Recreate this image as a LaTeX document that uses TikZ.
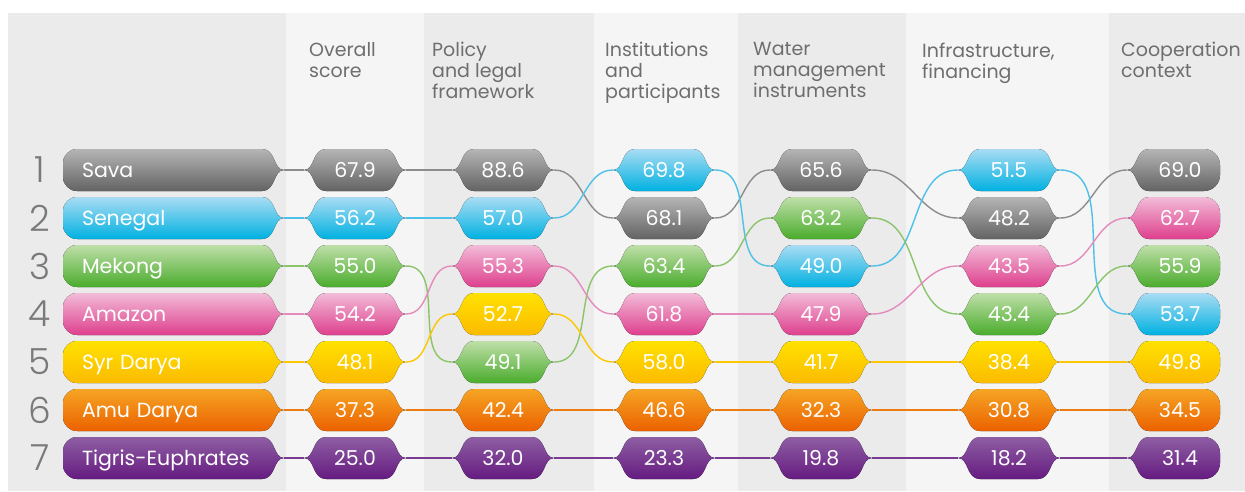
\documentclass[tikz,border=0pt]{standalone}
\usepackage{fontspec}
\setmainfont{Poppins}
\newfontfamily\thinfont{Poppins}[UprightFont={* Light}]

\pgfdeclarelayer{back}
\pgfdeclarelayer{lines}
\pgfsetlayers{back,lines,main}

% Row colours
\definecolor{savatop}{HTML}{B5B5B5}\definecolor{savabot}{HTML}{636363}\definecolor{savaline}{HTML}{8C8C8C}
\definecolor{senegaltop}{HTML}{A9DCF3}\definecolor{senegalbot}{HTML}{00B1E1}\definecolor{senegalline}{HTML}{4FC0E8}
\definecolor{mekongtop}{HTML}{BFDFA9}\definecolor{mekongbot}{HTML}{4AAC2C}\definecolor{mekongline}{HTML}{8BC46A}
\definecolor{amazontop}{HTML}{F2BCD8}\definecolor{amazonbot}{HTML}{DE3F8D}\definecolor{amazonline}{HTML}{E58BBB}
\definecolor{syrtop}{HTML}{FFE100}\definecolor{syrbot}{HTML}{FBBB00}\definecolor{syrline}{HTML}{FDC700}
\definecolor{amutop}{HTML}{F6A524}\definecolor{amubot}{HTML}{EB6100}\definecolor{amuline}{HTML}{EE7A12}
\definecolor{tigristop}{HTML}{8E5EA3}\definecolor{tigrisbot}{HTML}{651B80}\definecolor{tigrisline}{HTML}{7A3C92}
\definecolor{banddark}{HTML}{EBEBEB}
\definecolor{bandlight}{HTML}{F5F5F5}
\definecolor{headgrey}{HTML}{6E6E6E}
\definecolor{rankgrey}{HTML}{7A7A7A}

\tikzset{
  valnum/.style={minimum width=102pt, minimum height=42pt, inner sep=0pt, text=white,
    font=\fontsize{20.5}{20.5}\selectfont, text height=14.4pt, text depth=0pt},
  labname/.style={valnum, minimum width=221pt, text width=183pt, align=left, inner xsep=19pt},
  header/.style={anchor=north west, align=left, inner sep=0pt, text=headgrey,
    font=\fontsize{19}{21}\selectfont, execute at begin node=\strut},
  rank/.style={inner sep=0pt, text=rankgrey, font=\thinfont\fontsize{36}{36}\selectfont},
  link/.style={line width=1.4pt}
}

% pill with two pointed ends: name, x, y, colour, value
\newcommand{\valpill}[5]{%
  \fill[shift={(#2,#3)}, top color=#4top, bottom color=#4bot]
    (-51,0) .. controls (-40,0) and (-43,-21) .. (-29,-21) -- (29,-21)
    .. controls (43,-21) and (40,0) .. (51,0)
    .. controls (40,0) and (43,21) .. (29,21) -- (-29,21)
    .. controls (-43,21) and (-40,0) .. (-51,0) -- cycle;
  \node[valnum] (#1) at (#2,#3) {#5};}

% basin name pill: name, y, colour, text
\newcommand{\labpill}[4]{%
  \fill[shift={(0,#2)}, top color=#3top, bottom color=#3bot]
    (262,-21) -- (77,-21) .. controls (69.3,-21) and (63,-14.7) .. (63,-7) -- (63,7)
    .. controls (63,14.7) and (69.3,21) .. (77,21) -- (262,21)
    .. controls (276,21) and (273,0) .. (284,0)
    .. controls (273,0) and (276,-21) .. (262,-21) -- cycle;
  \node[labname] (#1) at (173.5,#2) {#4};}

% last column pill, round on the right: name, y, colour, value
\newcommand{\lastpill}[4]{%
  \fill[shift={(1180,#2)}, top color=#3top, bottom color=#3bot]
    (-53,0) .. controls (-42,0) and (-45,-21) .. (-31,-21) -- (24,-21)
    .. controls (32.8,-21) and (40,-13.8) .. (40,-5) -- (40,5)
    .. controls (40,13.8) and (32.8,21) .. (24,21) -- (-31,21)
    .. controls (-45,21) and (-42,0) .. (-53,0) -- cycle;
  \node[valnum, minimum width=106pt] (#1) at (1180,#2) {#4};}

\begin{document}
\begin{tikzpicture}[x=1pt, y=-1pt]
\useasboundingbox (0,0) rectangle (1245,491);

% Background bands
\begin{pgfonlayer}{back}
\fill[banddark] (8,13) rectangle (286,491);
\fill[bandlight] (286,13) rectangle (424,491);
\fill[banddark] (424,13) rectangle (594,491);
\fill[bandlight] (594,13) rectangle (738,491);
\fill[banddark] (738,13) rectangle (906,491);
\fill[bandlight] (906,13) rectangle (1109,491);
\fill[banddark] (1109,13) rectangle (1245,491);
\end{pgfonlayer}

% Column headers
\node[header] (h1) at (309,42.3) {Overall\\score};
\node[header] (h2) at (432,42.3) {Policy\\and legal\\framework};
\node[header] (h3) at (605,42.3) {Institutions\\and\\participants};
\node[header] (h4) at (753,42.3) {Water\\management\\instruments};
\node[header] (h5) at (922,42.3) {Infrastructure,\\financing};
\node[header] (h6) at (1121,42.3) {Cooperation\\context};

% Ranks
\node[rank] (rank1) at (40,170) {1};
\node[rank] (rank2) at (40,218) {2};
\node[rank] (rank3) at (40,266) {3};
\node[rank] (rank4) at (40,314) {4};
\node[rank] (rank5) at (40,362) {5};
\node[rank] (rank6) at (40,410) {6};
\node[rank] (rank7) at (40,458) {7};

% Basins
\labpill{sava0}{170}{sava}{Sava}
\labpill{senegal0}{218}{senegal}{Senegal}
\labpill{mekong0}{266}{mekong}{Mekong}
\labpill{amazon0}{314}{amazon}{Amazon}
\labpill{syr0}{362}{syr}{Syr Darya}
\labpill{amu0}{410}{amu}{Amu Darya}
\labpill{tigris0}{458}{tigris}{Tigris-Euphrates}

% Overall score
\valpill{sava1}{355}{170}{sava}{67.9}
\valpill{senegal1}{355}{218}{senegal}{56.2}
\valpill{mekong1}{355}{266}{mekong}{55.0}
\valpill{amazon1}{355}{314}{amazon}{54.2}
\valpill{syr1}{355}{362}{syr}{48.1}
\valpill{amu1}{355}{410}{amu}{37.3}
\valpill{tigris1}{355}{458}{tigris}{25.0}

% Policy and legal framework
\valpill{sava2}{503}{170}{sava}{88.6}
\valpill{senegal2}{503}{218}{senegal}{57.0}
\valpill{amazon2}{503}{266}{amazon}{55.3}
\valpill{syr2}{503}{314}{syr}{52.7}
\valpill{mekong2}{503}{362}{mekong}{49.1}
\valpill{amu2}{503}{410}{amu}{42.4}
\valpill{tigris2}{503}{458}{tigris}{32.0}

% Institutions and participants
\valpill{senegal3}{664}{170}{senegal}{69.8}
\valpill{sava3}{664}{218}{sava}{68.1}
\valpill{mekong3}{664}{266}{mekong}{63.4}
\valpill{amazon3}{664}{314}{amazon}{61.8}
\valpill{syr3}{664}{362}{syr}{58.0}
\valpill{amu3}{664}{410}{amu}{46.6}
\valpill{tigris3}{664}{458}{tigris}{23.3}

% Water management instruments
\valpill{sava4}{821}{170}{sava}{65.6}
\valpill{mekong4}{821}{218}{mekong}{63.2}
\valpill{senegal4}{821}{266}{senegal}{49.0}
\valpill{amazon4}{821}{314}{amazon}{47.9}
\valpill{syr4}{821}{362}{syr}{41.7}
\valpill{amu4}{821}{410}{amu}{32.3}
\valpill{tigris4}{821}{458}{tigris}{19.8}

% Infrastructure, financing
\valpill{senegal5}{1009}{170}{senegal}{51.5}
\valpill{sava5}{1009}{218}{sava}{48.2}
\valpill{amazon5}{1009}{266}{amazon}{43.5}
\valpill{mekong5}{1009}{314}{mekong}{43.4}
\valpill{syr5}{1009}{362}{syr}{38.4}
\valpill{amu5}{1009}{410}{amu}{30.8}
\valpill{tigris5}{1009}{458}{tigris}{18.2}

% Cooperation context
\lastpill{sava6}{170}{sava}{69.0}
\lastpill{amazon6}{218}{amazon}{62.7}
\lastpill{mekong6}{266}{mekong}{55.9}
\lastpill{senegal6}{314}{senegal}{53.7}
\lastpill{syr6}{362}{syr}{49.8}
\lastpill{amu6}{410}{amu}{34.5}
\lastpill{tigris6}{458}{tigris}{31.4}

% Links between columns
\begin{pgfonlayer}{lines}
\foreach \rv in {sava,senegal,mekong,amazon,syr,amu,tigris}
  \foreach \a/\b in {0/1,1/2,2/3,3/4,4/5,5/6}
    \draw[link, draw=\rv line] (\rv\a.east) to[out=0, in=180] (\rv\b.west);
\end{pgfonlayer}

\end{tikzpicture}
\end{document}
